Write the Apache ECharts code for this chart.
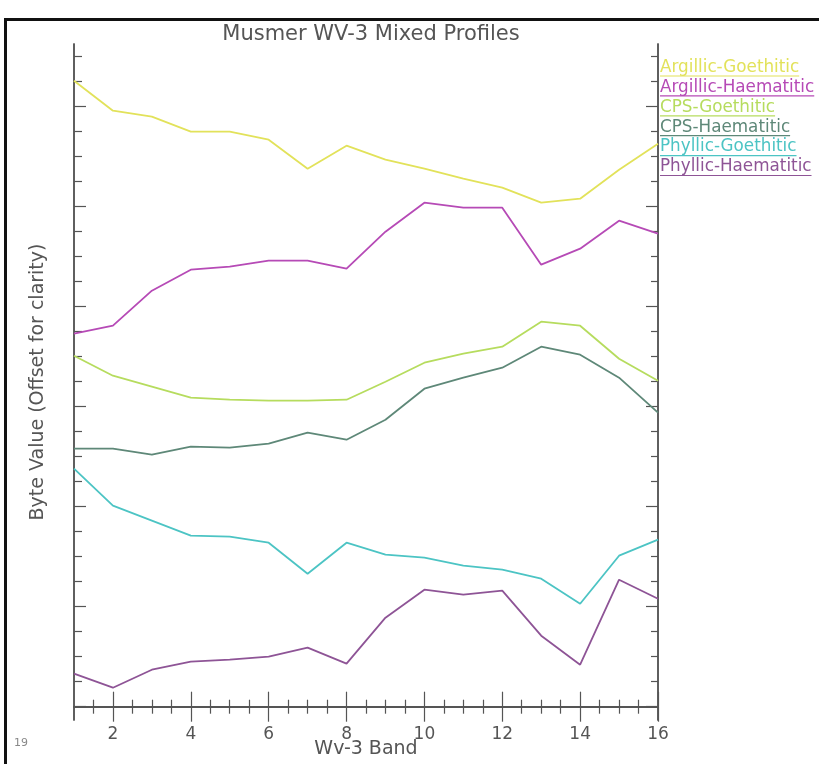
<!DOCTYPE html>
<html>
<head>
<meta charset="utf-8">
<script src="https://cdn.jsdelivr.net/npm/echarts@6/dist/echarts.min.js"></script>
<style>
  html, body { margin: 0; padding: 0; background: #fff; }
  #chart { width: 819px; height: 764px; }
</style>
</head>
<body>
<div id="chart"></div>
<script>
// band numbers (x) and the six offset profiles
var bands = [1, 2, 3, 4, 5, 6, 7, 8, 9, 10, 11, 12, 13, 14, 15, 16];
var argillicGoethitic = [6.26, 5.96, 5.90, 5.75, 5.75, 5.67, 5.38, 5.61, 5.47, 5.38, 5.28, 5.19, 5.04, 5.08, 5.37, 5.63];
var argillicHaematitic = [3.73, 3.81, 4.16, 4.37, 4.40, 4.46, 4.46, 4.38, 4.75, 5.04, 4.99, 4.99, 4.42, 4.58, 4.86, 4.73];
var cpsGoethitic = [3.51, 3.31, 3.20, 3.09, 3.07, 3.06, 3.06, 3.07, 3.25, 3.44, 3.53, 3.60, 3.85, 3.81, 3.48, 3.26];
var cpsHaematitic = [2.58, 2.58, 2.52, 2.60, 2.59, 2.63, 2.74, 2.67, 2.87, 3.18, 3.29, 3.39, 3.60, 3.52, 3.29, 2.94];
var phyllicGoethitic = [2.38, 2.01, 1.86, 1.71, 1.70, 1.64, 1.33, 1.64, 1.52, 1.49, 1.41, 1.37, 1.28, 1.03, 1.51, 1.67];
var phyllicHaematitic = [0.33, 0.19, 0.37, 0.45, 0.47, 0.50, 0.59, 0.43, 0.89, 1.17, 1.12, 1.16, 0.71, 0.42, 1.27, 1.08];

var seriesNames = ['Argillic-Goethitic', 'Argillic-Haematitic', 'CPS-Goethitic', 'CPS-Haematitic', 'Phyllic-Goethitic', 'Phyllic-Haematitic'];
var seriesColors = ['#e2e25a', '#b64ab6', '#b6dc5e', '#5e8878', '#4cc4c4', '#8e5496'];
var seriesData = [argillicGoethitic, argillicHaematitic, cpsGoethitic, cpsHaematitic, phyllicGoethitic, phyllicHaematitic];

// tick positions
var xMajorTicks = [2, 4, 6, 8, 10, 12, 14, 16];
var xMinorTicks = [1.5, 2.5, 3, 3.5, 4.5, 5, 5.5, 6.5, 7, 7.5, 8.5, 9, 9.5, 10.5, 11, 11.5, 12.5, 13, 13.5, 14.5, 15, 15.5];
var yMajorTicks = [0, 1, 2, 3, 4, 5, 6];
var yMinorTicks = [0.25, 0.5, 0.75, 1.25, 1.5, 1.75, 2.25, 2.5, 2.75, 3.25, 3.5, 3.75, 4.25, 4.5, 4.75, 5.25, 5.5, 5.75, 6.25, 6.5];

var yMin = -0.133;
var yMax = 6.627;
var axisColor = '#555';
var fontFamily = 'DejaVu Sans';

var dom = document.getElementById('chart');
var myChart = echarts.init(dom);

function xAxisDef(pos, ticks, len, showLabel, extra) {
  var a = {
    type: 'value',
    position: pos,
    min: 1,
    max: 16,
    axisLine: { show: true, lineStyle: { color: axisColor, width: 1.5 } },
    axisTick: { show: true, inside: true, length: len, customValues: ticks, lineStyle: { color: axisColor, width: 1.2 } },
    axisLabel: { show: showLabel, customValues: ticks, margin: 6, fontSize: 17, color: '#555', fontFamily: fontFamily },
    splitLine: { show: false },
  };
  return Object.assign(a, extra || {});
}

function yAxisDef(pos, ticks, len, extra) {
  var a = {
    type: 'value',
    position: pos,
    min: yMin,
    max: yMax,
    axisLine: { show: true, lineStyle: { color: axisColor, width: 1.5 } },
    axisTick: { show: true, inside: true, length: len, customValues: ticks, lineStyle: { color: axisColor, width: 1.2 } },
    axisLabel: { show: false },
    splitLine: { show: false },
  };
  return Object.assign(a, extra || {});
}

// legend drawn as underlined coloured text
var legendFont = '16.8px ' + fontFamily;
var measureCtx = document.createElement('canvas').getContext('2d');
measureCtx.font = legendFont;
var legendGraphics = [];
seriesNames.forEach(function (name, i) {
  var y = 69 + i * 19.9;
  var w = measureCtx.measureText(name).width;
  legendGraphics.push({
    type: 'text',
    left: 660,
    top: y - 10,
    style: { text: name, fill: seriesColors[i], font: legendFont },
  });
  legendGraphics.push({
    type: 'line',
    shape: { x1: 660, y1: y + 7, x2: 660 + w, y2: y + 7 },
    style: { stroke: seriesColors[i], lineWidth: 1.2 },
  });
});

var option = {
  backgroundColor: '#fff',
  animation: false,
  title: {
    text: 'Musmer WV-3 Mixed Profiles',
    left: 366,
    top: 19,
    textAlign: 'center',
    textStyle: { fontSize: 21, fontWeight: 'normal', color: '#555', fontFamily: fontFamily },
  },
  grid: { left: 74, right: 161, top: 44, bottom: 44, outerBoundsMode: 'none' },
  xAxis: [
    xAxisDef('bottom', xMajorTicks, 15, true, {
      name: 'Wv-3 Band',
      nameLocation: 'middle',
      nameGap: 20,
      nameMoveOverlap: false,
      nameTextStyle: { fontSize: 19, color: '#555', fontFamily: fontFamily },
    }),
    xAxisDef('bottom', xMinorTicks, 7, false),
    xAxisDef('top', xMajorTicks, 15, false),
    xAxisDef('top', xMinorTicks, 7, false),
  ],
  yAxis: [
    yAxisDef('left', yMajorTicks, 12, {
      name: 'Byte Value (Offset for clarity)',
      nameLocation: 'middle',
      nameGap: 26,
      nameTextStyle: { fontSize: 19, color: '#555', fontFamily: fontFamily },
    }),
    yAxisDef('left', yMinorTicks, 8),
    yAxisDef('right', yMajorTicks, 12),
    yAxisDef('right', yMinorTicks, 7),
  ],
  series: seriesNames.map(function (name, i) {
    return {
      name: name,
      type: 'line',
      xAxisIndex: 0,
      yAxisIndex: 0,
      data: bands.map(function (b, j) { return [b, seriesData[i][j]]; }),
      showSymbol: false,
      lineStyle: { color: seriesColors[i], width: 1.8 },
      itemStyle: { color: seriesColors[i] },
      emphasis: { disabled: true },
    };
  }),
  graphic: legendGraphics.concat([
    { type: 'rect', shape: { x: 4, y: 18, width: 815, height: 3 }, style: { fill: '#111' } },
    { type: 'rect', shape: { x: 4, y: 18, width: 3, height: 746 }, style: { fill: '#111' } },
    { type: 'text', left: 14, top: 738, style: { text: '19', fill: '#888', font: '11px ' + fontFamily } },
  ]),
};

myChart.setOption(option);
</script>
</body>
</html>
